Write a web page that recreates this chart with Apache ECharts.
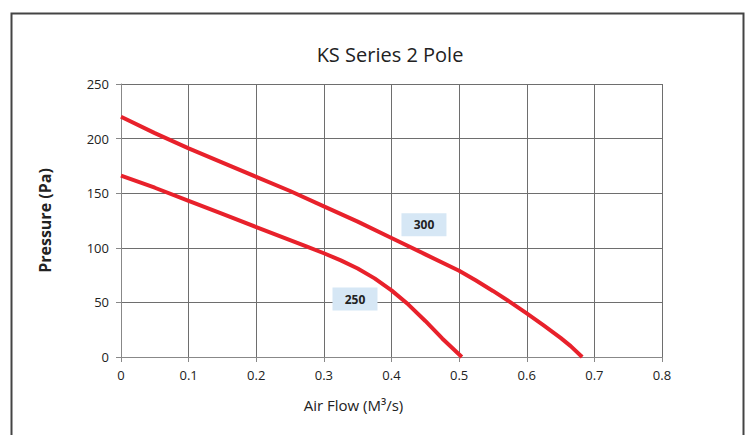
<!DOCTYPE html>
<html>
<head>
<meta charset="utf-8">
<style>
  html, body { margin: 0; padding: 0; background: #fff; }
  #chart { width: 747px; height: 435px; }
</style>
<script src="https://cdn.jsdelivr.net/npm/echarts@6/dist/echarts.min.js"></script>
</head>
<body>
<div id="chart"></div>
<script>
  // fan curves: [air flow m3/s, pressure Pa]
  var curve250 = [[0, 166], [0.05, 155], [0.1, 143], [0.15, 131], [0.2, 119], [0.25, 107],
    [0.275, 101], [0.3, 95], [0.325, 88.5], [0.35, 81], [0.375, 72], [0.4, 61],
    [0.425, 48], [0.45, 33], [0.475, 17], [0.504, 0]];
  var curve300 = [[0, 220], [0.05, 205], [0.1, 191], [0.15, 178], [0.2, 165], [0.25, 152],
    [0.3, 138], [0.35, 124], [0.4, 109], [0.45, 94], [0.5, 79], [0.525, 70], [0.55, 60.5],
    [0.575, 50.5], [0.6, 40], [0.625, 29], [0.65, 17.5], [0.665, 10], [0.682, 0]];
  var labelNames = ['250', '300'];
  var labelAt = [[0.346, 53], [0.448, 121]];

  var red = '#e8212b';
  var gridLine = '#6e6e6e';
  var font = '"Open Sans", "DejaVu Sans", sans-serif';

  function tag(i) {
    return {
      coord: labelAt[i],
      symbol: 'rect',
      symbolSize: [45, 23],
      itemStyle: { color: '#d6e7f5' },
      label: {
        show: true, position: 'inside', formatter: labelNames[i],
        color: '#222', fontSize: 12, fontWeight: 'bold', fontFamily: font
      }
    };
  }

  var chart = echarts.init(document.getElementById('chart'), null, { renderer: 'svg' });
  chart.setOption({
    animation: false,
    title: {
      text: 'KS Series 2 Pole',
      left: 385, top: 39, textAlign: 'center',
      textStyle: { fontSize: 20, fontWeight: 'normal', color: '#222', fontFamily: font }
    },
    graphic: [{
      type: 'rect', silent: true,
      shape: { x: 11.5, y: 13.5, width: 732, height: 440 },
      style: { fill: 'none', stroke: '#444', lineWidth: 2 }
    }],
    grid: { left: 121, right: 85, top: 84, bottom: 78 },
    xAxis: {
      type: 'value', min: 0, max: 0.8, interval: 0.1,
      name: 'Air Flow (M\u00b3/s)', nameLocation: 'middle', nameGap: 40,
      nameTextStyle: { fontSize: 15, color: '#222', fontFamily: font, padding: [0, 76, 0, 0] },
      axisLine: { show: true, lineStyle: { color: '#888' } },
      axisTick: { show: true, length: 5, lineStyle: { color: '#888' } },
      axisLabel: { color: '#222', fontSize: 13, margin: 11, fontFamily: font,
        formatter: function (v) { return v === 0 ? '0' : v.toFixed(1); } },
      splitLine: { show: true, lineStyle: { color: gridLine, width: 1 } }
    },
    yAxis: {
      type: 'value', min: 0, max: 250, interval: 50,
      name: 'Pressure (Pa)', nameLocation: 'middle', nameGap: 68,
      nameTextStyle: { fontSize: 16, fontWeight: 'bold', color: '#222', fontFamily: font },
      axisLine: { show: true, lineStyle: { color: '#888' } },
      axisTick: { show: true, length: 5, lineStyle: { color: '#888' } },
      axisLabel: { color: '#222', fontSize: 13, margin: 12, fontFamily: font },
      splitLine: { show: true, lineStyle: { color: gridLine, width: 1 } }
    },
    series: [{
      name: '250', type: 'line', data: curve250, smooth: false,
      showSymbol: false, lineStyle: { color: red, width: 4, join: 'round' },
      markPoint: { silent: true, data: [tag(0)] }
    }, {
      name: '300', type: 'line', data: curve300, smooth: false,
      showSymbol: false, lineStyle: { color: red, width: 4, join: 'round' },
      markPoint: { silent: true, data: [tag(1)] }
    }]
  });
  window.addEventListener('resize', function () { chart.resize(); });
</script>
</body>
</html>
